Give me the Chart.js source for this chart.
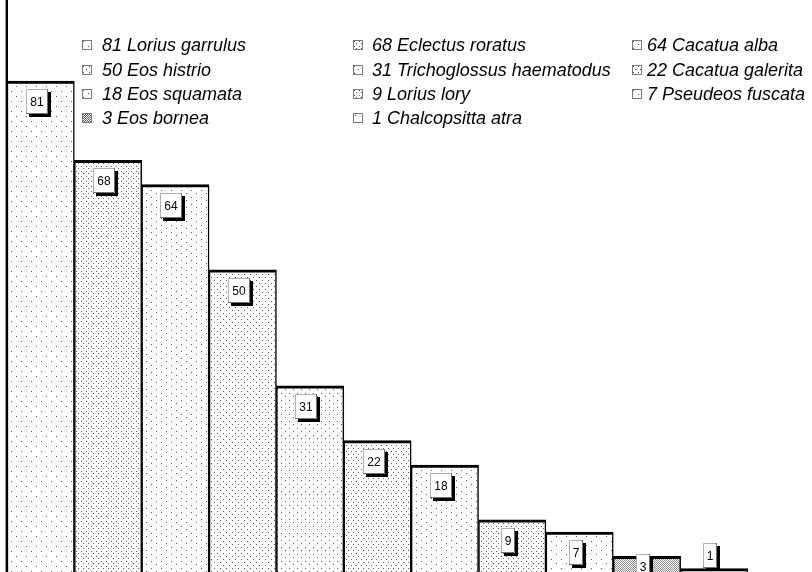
<!DOCTYPE html>
<html>
<head>
<meta charset="utf-8">
<script src="https://cdn.jsdelivr.net/npm/chart.js@4.4.1/dist/chart.umd.min.js"></script>
<style>
  html, body { margin: 0; padding: 0; background: #ffffff; }
  #wrap { position: relative; width: 812px; height: 572px; overflow: hidden; }
  #chart { position: absolute; left: 0; top: 0; }
  #legend { position: absolute; left: 0; top: 0; width: 812px; height: 140px; pointer-events: none; }
  .item { position: absolute; height: 24px; line-height: 24px; white-space: nowrap;
          font-family: "Liberation Sans", Arial, sans-serif; font-style: italic; font-size: 18px; color: #000; }
  .item canvas { position: absolute; left: 0; top: 7px; }
  .item span { position: absolute; top: 0; }
</style>
</head>
<body>
<div id="wrap">
  <canvas id="chart" width="812" height="572"></canvas>
  <div id="legend"></div>
</div>
<script>
// Parrot species and counts, largest first
const species = [
  'Lorius garrulus', 'Eclectus roratus', 'Cacatua alba',
  'Eos histrio', 'Trichoglossus haematodus', 'Cacatua galerita',
  'Eos squamata', 'Lorius lory', 'Pseudeos fuscata',
  'Eos bornea', 'Chalcopsitta atra'
];
const counts = [81, 68, 64, 50, 31, 22, 18, 9, 7, 3, 1];
const legendLabels = species.map((s, i) => counts[i] + ' ' + s);

// Dot pattern tiles for each bar: [tileW, tileH, [[x,y],...]]
const patternSpecs = [
  [10, 10, [[1, 1], [6, 6]]],
  [5, 5, [[1, 1], [3, 3]]],
  [10, 7, [[1, 1], [6, 4]]],
  [6, 6, [[1, 1], [4, 4]]],
  [8, 7, [[1, 1], [5, 4]]],
  [5, 6, [[1, 1], [3, 4]]],
  [10, 7, [[1, 1], [6, 4]]],
  [5, 5, [[1, 1], [3, 3]]],
  [10, 9, [[1, 1], [6, 5]]],
  [2, 2, [[0, 0], [1, 1]]],
  [8, 8, [[2, 2]]]
];

function makeTile(spec, color) {
  const [w, h, dots] = spec;
  const c = document.createElement('canvas');
  c.width = w; c.height = h;
  const g = c.getContext('2d');
  g.fillStyle = '#ffffff';
  g.fillRect(0, 0, w, h);
  g.fillStyle = color;
  dots.forEach(([x, y]) => g.fillRect(x, y, 1, 1));
  return c;
}

const ctx = document.getElementById('chart').getContext('2d');
const fills = patternSpecs.map((s, i) =>
  ctx.createPattern(makeTile(s, i === 9 ? '#8a8a8a' : '#5a5a5a'), 'repeat'));

// Legend: three columns, filled row by row
const legendCols = [82, 353, 632];
const legendTextOffset = [20, 19, 15];
const legendRows = [33, 58, 82, 106];
const legendEl = document.getElementById('legend');
legendLabels.forEach((label, i) => {
  const col = i % 3, row = Math.floor(i / 3);
  const item = document.createElement('div');
  item.className = 'item';
  item.style.left = legendCols[col] + 'px';
  item.style.top = legendRows[row] + 'px';
  const sw = document.createElement('canvas');
  sw.width = 10; sw.height = 10;
  const g = sw.getContext('2d');
  g.fillStyle = g.createPattern(makeTile(patternSpecs[i], '#555555'), 'repeat');
  g.fillRect(0, 0, 10, 10);
  g.strokeStyle = '#7a7a7a';
  g.lineWidth = 1;
  g.strokeRect(0.5, 0.5, 9, 9);
  item.appendChild(sw);
  const t = document.createElement('span');
  t.style.left = legendTextOffset[col] + 'px';
  t.textContent = label;
  item.appendChild(t);
  legendEl.appendChild(item);
});

// Vertical line along the left edge of the plot
const leftAxisLine = {
  id: 'leftAxisLine',
  afterDatasetsDraw(chart) {
    const { ctx, chartArea } = chart;
    ctx.save();
    ctx.strokeStyle = '#9a9a9a';
    ctx.lineWidth = 1;
    ctx.beginPath();
    ctx.moveTo(chartArea.left - 1.5, 0);
    ctx.lineTo(chartArea.left - 1.5, chart.height);
    ctx.stroke();
    ctx.strokeStyle = '#000';
    ctx.lineWidth = 2;
    ctx.beginPath();
    ctx.moveTo(chartArea.left, 0);
    ctx.lineTo(chartArea.left, chart.height);
    ctx.stroke();
    ctx.restore();
  }
};

// Boxed value labels with a drop shadow
const valueBoxes = {
  id: 'valueBoxes',
  afterDatasetsDraw(chart) {
    const { ctx } = chart;
    const meta = chart.getDatasetMeta(0);
    const data = chart.data.datasets[0].data;
    const zeroPx = chart.scales.y.getPixelForValue(0);
    ctx.save();
    ctx.font = '12px "Liberation Sans", Arial, sans-serif';
    ctx.textAlign = 'center';
    ctx.textBaseline = 'middle';
    meta.data.forEach((bar, i) => {
      const text = String(data[i]);
      const w = Math.round(ctx.measureText(text).width * 1.25 + 5.5);
      const h = 25;
      const barH = zeroPx - bar.y;
      let top;
      if (barH < h / 2) top = bar.y - h - 1;
      else if (barH < h + 8) top = bar.y - 2;
      else top = bar.y + 8;
      const left = Math.round(bar.x - 4 - w / 2);
      top = Math.round(top);
      ctx.fillStyle = '#000';
      ctx.fillRect(left + 3, top + 3, w, h);
      ctx.fillStyle = '#fff';
      ctx.fillRect(left, top, w, h);
      ctx.lineWidth = 1;
      ctx.strokeStyle = '#b0b0b0';
      ctx.beginPath();
      ctx.moveTo(left + 0.5, top + h);
      ctx.lineTo(left + 0.5, top + 0.5);
      ctx.lineTo(left + w, top + 0.5);
      ctx.stroke();
      ctx.strokeStyle = '#707070';
      ctx.beginPath();
      ctx.moveTo(left + w - 0.5, top);
      ctx.lineTo(left + w - 0.5, top + h - 0.5);
      ctx.lineTo(left, top + h - 0.5);
      ctx.stroke();
      ctx.fillStyle = '#000';
      ctx.fillText(text, left + w / 2, top + h / 2 + 1);
    });
    ctx.restore();
  }
};

new Chart(ctx, {
  type: 'bar',
  data: {
    labels: legendLabels,
    datasets: [{
      data: counts,
      backgroundColor: fills,
      borderColor: '#000',
      borderWidth: { top: 3, left: 1.5, right: 1.5, bottom: 0 },
      borderSkipped: 'bottom',
      categoryPercentage: 1,
      barPercentage: 1
    }]
  },
  options: {
    responsive: false,
    animation: false,
    events: [],
    layout: { padding: { left: 7, right: 64, top: 0, bottom: 0 } },
    plugins: { legend: { display: false }, tooltip: { enabled: false } },
    scales: {
      x: { display: false, offset: true },
      y: { display: false, min: 0.44, max: 94.29 }
    }
  },
  plugins: [valueBoxes, leftAxisLine]
});
</script>
</body>
</html>
